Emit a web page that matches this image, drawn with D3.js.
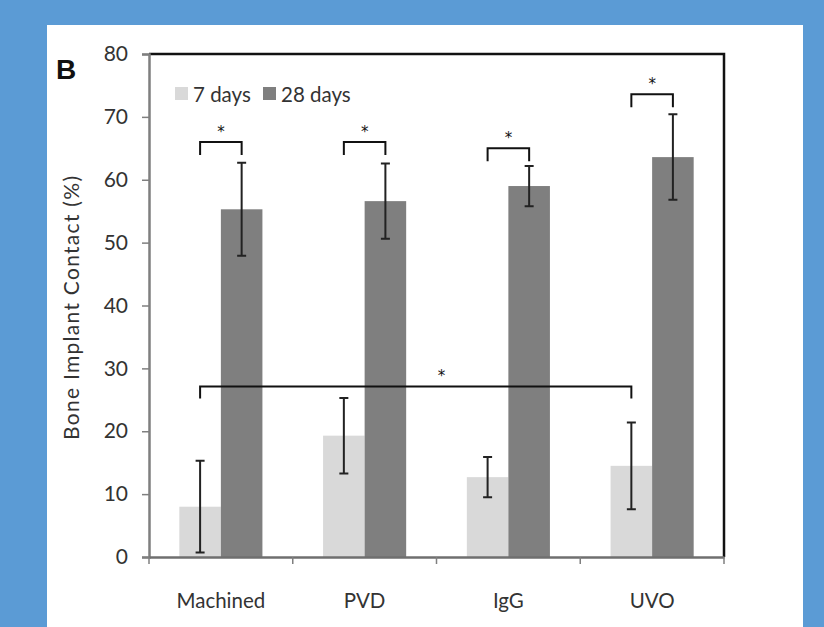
<!DOCTYPE html>
<html><head><meta charset="utf-8">
<script src="https://cdn.jsdelivr.net/npm/d3@7"></script>
<style>html,body{margin:0;padding:0;background:#5b9bd5;}</style>
</head><body>
<svg id="chart" width="824" height="627"></svg>
<script>
const categories = ["Machined", "PVD", "IgG", "UVO"];
const seriesNames = ["7 days", "28 days"];
const values7 = [8.0, 19.3, 12.7, 14.5];
const errors7 = [7.3, 6.0, 3.2, 6.9];
const values28 = [55.3, 56.6, 59.0, 63.6];
const errors28 = [7.4, 6.0, 3.2, 6.8];
const yTicks = [0, 10, 20, 30, 40, 50, 60, 70, 80];
const bracketLevels = [66.0, 66.0, 65.0, 73.6];
const bigBracketLevel = 27.1;
const colors = ["#d9d9d9", "#7f7f7f"];

const svg = d3.select("#chart");
svg.append("rect").attr("x",0).attr("y",0).attr("width",824).attr("height",627).attr("fill","#5b9bd5");
svg.append("rect").attr("x",47).attr("y",25).attr("width",756).attr("height",602).attr("fill","#ffffff");

const L = 149, R = 724, T = 54, B = 557;
const x = d3.scaleBand().domain(categories).range([L, R]).padding(0);
const xs = d3.scaleBand().domain(seriesNames).range([0, x.bandwidth()]).paddingInner(0).paddingOuter(0.73);
const y = d3.scaleLinear().domain([0, 80]).range([B, T]);

const font = "Lato, 'Open Sans', sans-serif";

// bars
const data = [];
categories.forEach((c, i) => {
  data.push({c, s: seriesNames[0], v: values7[i], e: errors7[i], col: colors[0]});
  data.push({c, s: seriesNames[1], v: values28[i], e: errors28[i], col: colors[1]});
});
svg.append("g").selectAll("rect").data(data).join("rect")
  .attr("x", d => x(d.c) + xs(d.s))
  .attr("width", xs.bandwidth())
  .attr("y", d => y(d.v))
  .attr("height", d => y(0) - y(d.v))
  .attr("fill", d => d.col);

// frame top / right
svg.append("path").attr("d", `M${L},${T}H${R}V${B}`).attr("fill","none").attr("stroke","#111").attr("stroke-width",2.5);

// y axis
const yAxis = svg.append("g").attr("transform", `translate(${L},0)`)
  .call(d3.axisLeft(y).tickValues(yTicks).tickSize(7).tickPadding(14));
yAxis.select(".domain").attr("stroke","#7f7f7f").attr("stroke-width",2.5);
yAxis.selectAll(".tick line").attr("stroke","#7f7f7f").attr("stroke-width",1.5);
yAxis.selectAll(".tick text").attr("font-family",font).attr("font-size",21).attr("fill","#333");

// x axis
const xAxis = svg.append("g").attr("transform", `translate(0,${B})`)
  .call(d3.axisBottom(x).tickSize(0).tickPadding(36));
xAxis.select(".domain").attr("stroke","#6f6f6f").attr("stroke-width",2.5);
xAxis.selectAll(".tick text").attr("font-family",font).attr("font-size",20.5).attr("fill","#333");
const bounds = categories.map(c => x(c)).concat([R]);
svg.append("g").selectAll("line").data(bounds).join("line")
  .attr("x1", d => d).attr("x2", d => d).attr("y1", B).attr("y2", B + 7)
  .attr("stroke","#7f7f7f").attr("stroke-width",1.5);

// error bars
const eb = svg.append("g").attr("stroke","#222").attr("stroke-width",2).attr("fill","none");
data.forEach(d => {
  const cx = x(d.c) + xs(d.s) + xs.bandwidth()/2;
  const y1 = y(d.v + d.e), y2 = y(d.v - d.e);
  eb.append("path").attr("d", `M${cx},${y1}V${y2}M${cx-4.5},${y1}H${cx+4.5}M${cx-4.5},${y2}H${cx+4.5}`);
});

// brackets
const br = svg.append("g");
categories.forEach((c, i) => {
  const x1 = x(c) + xs(seriesNames[0]) + xs.bandwidth()/2;
  const x2 = x(c) + xs(seriesNames[1]) + xs.bandwidth()/2;
  const yy = y(bracketLevels[i]);
  br.append("path").attr("d", `M${x1},${yy+13}V${yy}H${x2}V${yy+13}`)
    .attr("fill","none").attr("stroke","#111").attr("stroke-width",2);
  br.append("text").attr("x",(x1+x2)/2).attr("y",yy-5).attr("text-anchor","middle")
    .attr("font-family","'DejaVu Sans', sans-serif").attr("font-size",15).attr("fill","#111").text("*");
});
{
  const x1 = x(categories[0]) + xs(seriesNames[0]) + xs.bandwidth()/2;
  const x2 = x(categories[3]) + xs(seriesNames[0]) + xs.bandwidth()/2;
  const yy = y(bigBracketLevel);
  br.append("path").attr("d", `M${x1},${yy+12}V${yy}H${x2}V${yy+12}`)
    .attr("fill","none").attr("stroke","#111").attr("stroke-width",2);
  br.append("text").attr("x", x1 + (x2-x1)*0.56).attr("y", yy-6).attr("text-anchor","middle")
    .attr("font-family","'DejaVu Sans', sans-serif").attr("font-size",15).attr("fill","#111").text("*");
}

// legend
const lg = svg.append("g").attr("transform","translate(175,87)");
seriesNames.forEach((s, i) => {
  const ox = i === 0 ? 0 : 88;
  lg.append("rect").attr("x", ox).attr("y", 0).attr("width", 13).attr("height", 13).attr("fill", colors[i]);
  lg.append("text").attr("x", ox + 18).attr("y", 14.5).attr("font-family", font).attr("font-size", 20.5).attr("fill","#333").text(s);
});

// y label
svg.append("text").attr("transform","translate(79,308) rotate(-90)").attr("text-anchor","middle")
  .attr("font-family",font).attr("font-size",21).attr("fill","#333")
  .attr("textLength",264).attr("lengthAdjust","spacing").text("Bone Implant Contact (%)");

// panel label
svg.append("text").attr("x",56).attr("y",79).attr("font-family","'Liberation Sans', Arial, sans-serif")
  .attr("font-weight","bold").attr("font-size",28).attr("fill","#111").text("B");
</script>
</body></html>
